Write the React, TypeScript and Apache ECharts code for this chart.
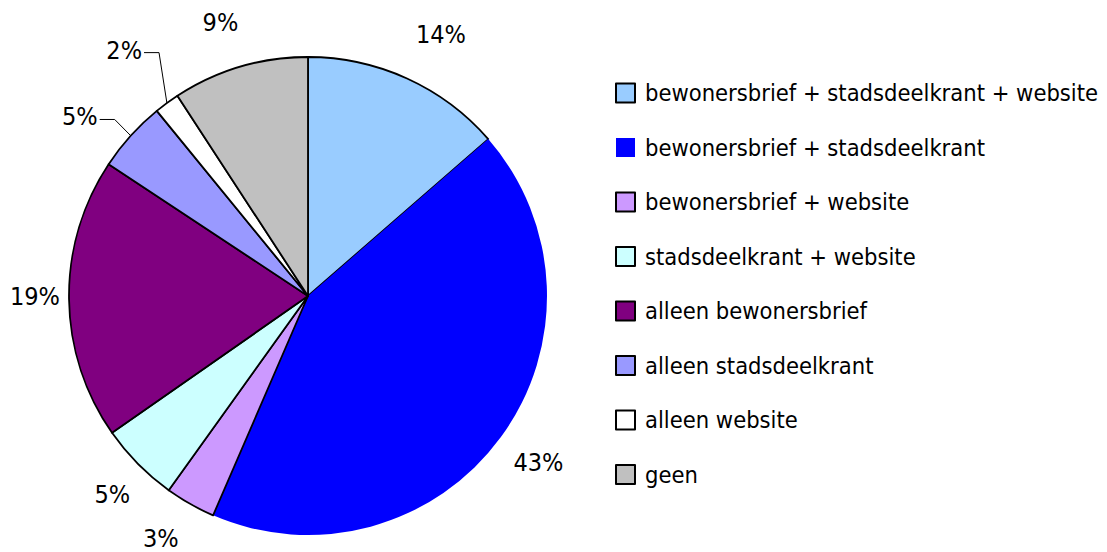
import React, { useEffect, useRef } from "react";
import * as echarts from "echarts";

const categories = [
  "bewonersbrief + stadsdeelkrant + website",
  "bewonersbrief + stadsdeelkrant",
  "bewonersbrief + website",
  "stadsdeelkrant + website",
  "alleen bewonersbrief",
  "alleen stadsdeelkrant",
  "alleen website",
  "geen",
];
const values = [13.6, 42.9, 3.4, 5.4, 19.0, 4.8, 1.7, 9.2];
const colors = ["#99CCFF", "#0000FF", "#CC99FF", "#CCFFFF", "#800080", "#9999FF", "#FFFFFF", "#C0C0C0"];

// label layout (styling): distance of label centre from pie centre, and angular shift (deg)
const LABEL_RADIUS = [293, 284, 284, 279, 273, 290, 307, 287];
const LABEL_SHIFT = [2.5, -0.4, 1.7, -0.8, 0.7, -4, -0.6, -1.2];
const LINE_ITEMS = [5, 6];

const CX = 308;
const CY = 296;
const R = 239;
const FONT = "'DejaVu Sans Condensed', 'Liberation Sans Narrow', 'Arial Narrow', sans-serif";

export default function App() {
  const ref = useRef<HTMLDivElement>(null);
  useEffect(() => {
    if (!ref.current) return;
    const chart = echarts.init(ref.current, null, { renderer: "svg" });
    const total = values.reduce((a, b) => a + b, 0);
    const mids: number[] = [];
    let acc = 0;
    values.forEach((v) => {
      mids.push(((acc + v / 2) / total) * 360);
      acc += v;
    });
    chart.setOption({
      animation: false,
      backgroundColor: "#ffffff",
      legend: {
        orient: "vertical",
        left: 615,
        top: 81,
        padding: 0,
        itemWidth: 19,
        itemHeight: 19,
        itemGap: 30.5,
        icon: "rect",
        data: categories,
        textStyle: {
          fontFamily: FONT,
          fontSize: 23.5,
          color: "#000",
          padding: [0, 0, 0, 5],
        },
        selectedMode: false,
      },
      series: [
        {
          type: "pie",
          center: [CX, CY],
          radius: [0, R],
          startAngle: 90,
          clockwise: true,
          avoidLabelOverlap: false,
          label: {
            show: true,
            position: "outside",
            fontFamily: FONT,
            fontSize: 25,
            color: "#000",
            formatter: (p: any) => Math.round(p.value) + "%",
          },
          labelLine: { show: false, lineStyle: { color: "#000", width: 1 } },
          labelLayout: (p: any) => {
            const i = p.dataIndex;
            const a = ((mids[i] + LABEL_SHIFT[i]) * Math.PI) / 180;
            const x = CX + LABEL_RADIUS[i] * Math.sin(a);
            const y = CY - LABEL_RADIUS[i] * Math.cos(a);
            const res: any = { x, y, align: "center", verticalAlign: "middle" };
            if (LINE_ITEMS.includes(i)) {
              const m = (mids[i] * Math.PI) / 180;
              const ex = CX + R * Math.sin(m);
              const ey = CY - R * Math.cos(m);
              const tx = x + p.labelRect.width / 2 + 2;
              res.labelLinePoints = [
                [ex, ey],
                [tx + 15, y + 2.5],
                [tx, y + 2.5],
              ];
            }
            return res;
          },
          emphasis: { disabled: true },
          data: categories.map((name, i) => ({
            name,
            value: values[i],
            itemStyle: {
              color: colors[i],
              borderColor: "#000",
              borderWidth: i === 1 ? 0 : 1.8,
            },
            labelLine: { show: LINE_ITEMS.includes(i) },
          })),
        },
      ],
    });
    return () => chart.dispose();
  }, []);
  return (
    <div
      ref={ref}
      style={{ position: "fixed", left: 0, top: 0, width: 1107, height: 552 }}
    />
  );
}
